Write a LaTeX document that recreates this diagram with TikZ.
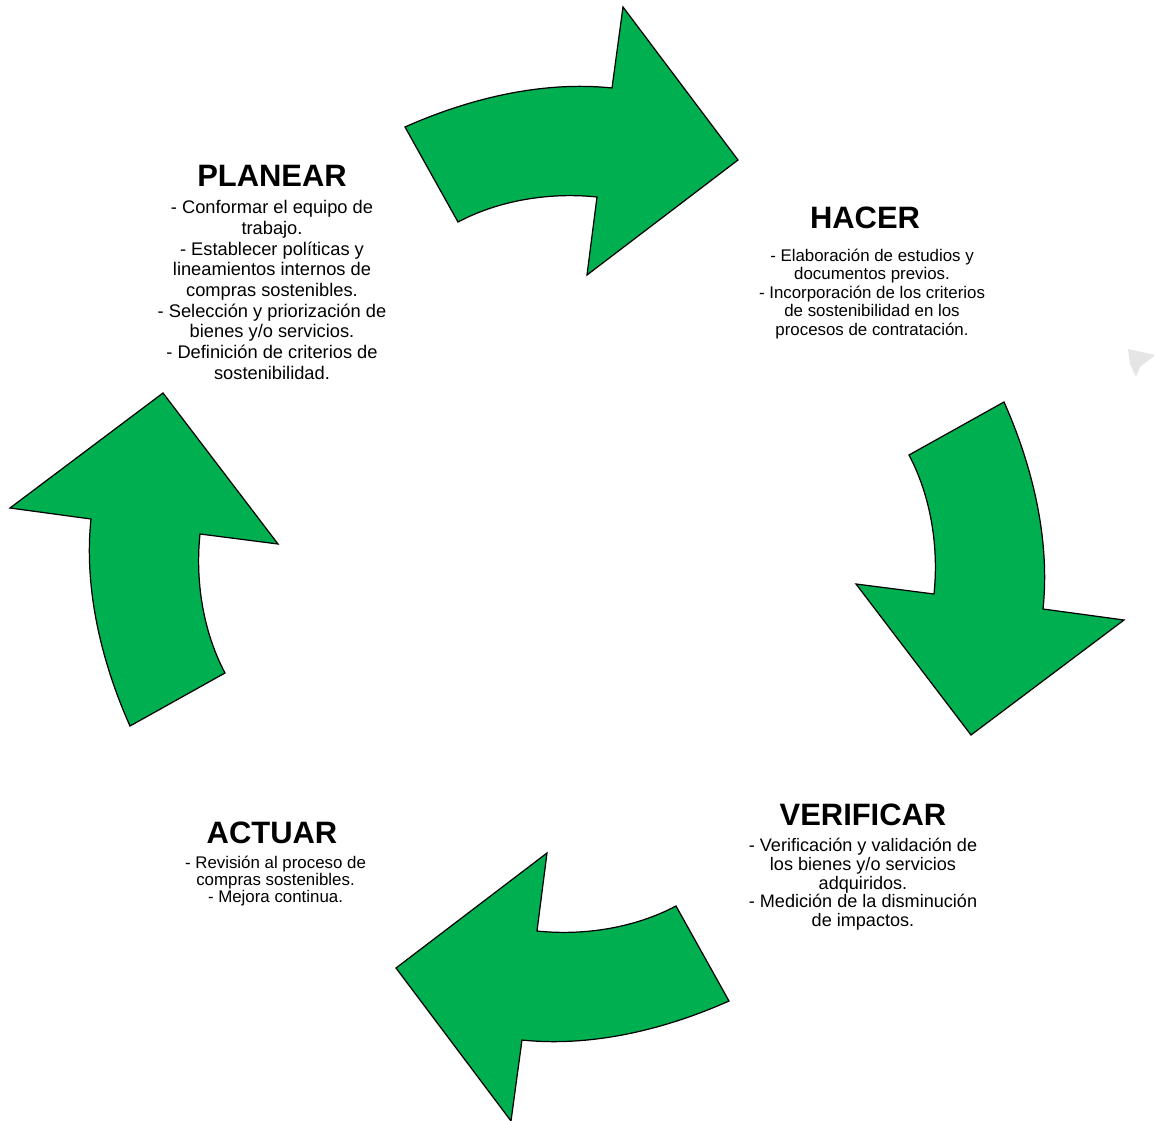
\documentclass[tikz,border=0pt]{standalone}
\usepackage{fontspec}
\setmainfont{Liberation Sans}
\usetikzlibrary{positioning}
\definecolor{arrowgreen}{RGB}{0,176,80}

\begin{document}
\begin{tikzpicture}[x=0.02cm, y=0.02cm,
    cyclearrow/.style={fill=arrowgreen, draw=black, line width=0.7pt, line join=miter},
    phasetitle/.style={inner sep=0pt, font=\fontsize{17.6}{20}\selectfont\bfseries},
    phasetext/.style={inner sep=0pt, align=center}]

    \useasboundingbox (-567,-556) rectangle (589,564);

    % the four curved arrows, one turned by 90 degrees from the next
    \filldraw[cyclearrow] (-162,437) .. controls (-98,465.5) and (-24.6,483.3) .. (45,476) -- (56,557) -- (171,404) -- (20,289) -- (30,367) .. controls (-16.7,371.9) and (-67.5,364) .. (-109,342) -- cycle;
    \filldraw[cyclearrow, rotate=-90] (-162,437) .. controls (-98,465.5) and (-24.6,483.3) .. (45,476) -- (56,557) -- (171,404) -- (20,289) -- (30,367) .. controls (-16.7,371.9) and (-67.5,364) .. (-109,342) -- cycle;
    \filldraw[cyclearrow, rotate=-180] (-162,437) .. controls (-98,465.5) and (-24.6,483.3) .. (45,476) -- (56,557) -- (171,404) -- (20,289) -- (30,367) .. controls (-16.7,371.9) and (-67.5,364) .. (-109,342) -- cycle;
    \filldraw[cyclearrow, rotate=-270] (-162,437) .. controls (-98,465.5) and (-24.6,483.3) .. (45,476) -- (56,557) -- (171,404) -- (20,289) -- (30,367) .. controls (-16.7,371.9) and (-67.5,364) .. (-109,342) -- cycle;

    % faint mark at the right edge
    \fill[gray!20] (561,215) -- (588,209) -- (573,197) -- (569,187) -- (563,200) -- cycle;

    \node[phasetitle] (planear) at (-295,388) {PLANEAR};
    \node[phasetext, below=7.4pt of planear, font=\fontsize{10.4}{11.8}\selectfont] (planeartext)
    {- Conformar el equipo de\\ trabajo.\\ - Establecer políticas y\\ lineamientos internos de\\
    compras sostenibles.\\ - Selección y priorización de\\ bienes y/o servicios.\\
    - Definición de criterios de\\ sostenibilidad.};

    \node[phasetitle] (hacer) at (298,346) {HACER};
    \node[phasetext, below=10.8pt of hacer, xshift=4pt, font=\fontsize{9.6}{10.6}\selectfont] (hacertext)
    {- Elaboración de estudios y\\ documentos previos.\\ - Incorporación de los criterios\\
    de sostenibilidad en los\\ procesos de contratación.};

    \node[phasetitle] (verificar) at (296,-251) {VERIFICAR};
    \node[phasetext, below=6.3pt of verificar, font=\fontsize{10.3}{10.8}\selectfont] (verificartext)
    {- Verificación y validación de\\ los bienes y/o servicios\\ adquiridos.\\
    - Medición de la disminución\\ de impactos.};

    \node[phasetitle] (actuar) at (-295,-268.5) {ACTUAR};
    \node[phasetext, below=6.8pt of actuar, xshift=2pt, font=\fontsize{9.6}{9.7}\selectfont] (actuartext)
    {- Revisión al proceso de\\ compras sostenibles.\\ - Mejora continua.};
\end{tikzpicture}
\end{document}
